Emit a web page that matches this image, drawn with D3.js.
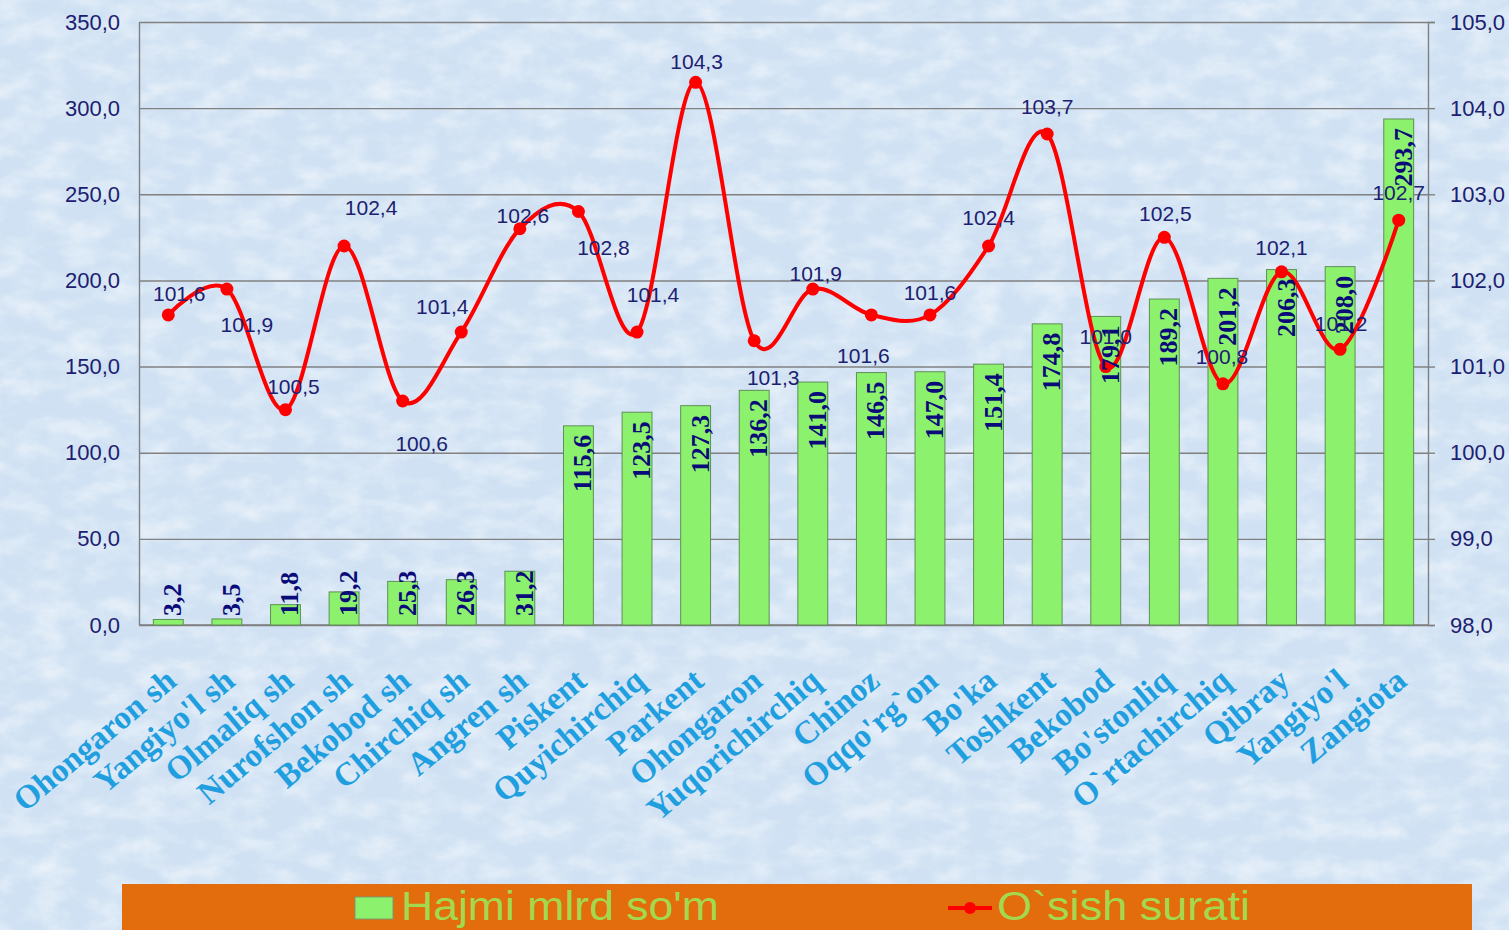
<!DOCTYPE html>
<html lang="uz">
<head>
  <meta charset="UTF-8">
  <title>Hajmi va o'sish surati</title>
  <script src="https://d3js.org/d3.v7.min.js"></script>
  <style>
    body { margin: 0; padding: 0; background: #d2e4f5; overflow: hidden; }
    svg { display: block; }
  </style>
</head>
<body>
  <svg width="1509" height="930"></svg>
  <script>
    // hududlar
    const categories = ["Ohongaron sh", "Yangiyo'l sh", "Olmaliq sh", "Nurofshon sh", "Bekobod sh",
      "Chirchiq sh", "Angren sh", "Piskent", "Quyichirchiq", "Parkent", "Ohongaron", "Yuqorichirchiq",
      "Chinoz", "Oqqo'rg`on", "Bo'ka", "Toshkent", "Bekobod", "Bo'stonliq", "O`rtachirchiq",
      "Qibray", "Yangiyo'l", "Zangiota"];
    // Hajmi mlrd so'm
    const volume = [3.2, 3.5, 11.8, 19.2, 25.3, 26.3, 31.2, 115.6, 123.5, 127.3, 136.2, 141.0,
      146.5, 147.0, 151.4, 174.8, 179.1, 189.2, 201.2, 206.3, 208.0, 293.7];
    // O`sish surati
    const growth = [101.6, 101.9, 100.5, 102.4, 100.6, 101.4, 102.6, 102.8, 101.4, 104.3, 101.3, 101.9,
      101.6, 101.6, 102.4, 103.7, 101.0, 102.5, 100.8, 102.1, 101.2, 102.7];
    const leftTicks = [0, 50, 100, 150, 200, 250, 300, 350];
    const rightTicks = [98, 99, 100, 101, 102, 103, 104, 105];
    const seriesNames = ["Hajmi mlrd so'm", "O`sish surati"];

    // label offsets for the line labels (moved by hand in the original)
    const lineLabelShift = [[11, -21], [20, 36], [8, -23], [27, -38], [19, 43], [-19, -25], [3, -13],
      [25, 36], [16, -37], [1, -21], [19, 37], [3, -15], [-8, 41], [0, -22], [0, -28], [0, -27],
      [0, -30], [1, -24], [-1, -27], [0, -24], [1, -26], [0, -27]];

    const svg = d3.select("svg");
    const fmt = v => d3.format(".1f")(v).replace(".", ",");

    // fon: och ko'k, mayda teksturali
    const defs = svg.append("defs");
    const f = defs.append("filter").attr("id", "tex").attr("x", 0).attr("y", 0).attr("width", 1).attr("height", 1);
    f.append("feTurbulence").attr("type", "fractalNoise").attr("baseFrequency", "0.03 0.05")
      .attr("numOctaves", 4).attr("seed", 11);
    f.append("feColorMatrix").attr("type", "matrix")
      .attr("values", "0 0 0 0 1  0 0 0 0 1  0 0 0 0 1  1.6 0 0 0 -0.6");
    svg.append("rect").attr("width", 1509).attr("height", 930).attr("fill", "#cfe1f3");
    svg.append("rect").attr("width", 1509).attr("height", 930).attr("filter", "url(#tex)").attr("opacity", 0.6);

    const plotL = 139, plotR = 1428, plotT = 22, plotB = 625;

    const x = d3.scaleBand().domain(categories).range([plotL, plotR]);
    const yL = d3.scaleLinear().domain([0, 350]).range([plotB, plotT]);
    const yR = d3.scaleLinear().domain([98, 105]).range([plotB, plotT]);

    // gorizontal chiziqlar
    svg.append("g")
      .attr("transform", `translate(${plotL},0)`)
      .call(d3.axisLeft(yL).tickValues(leftTicks).tickSize(-(plotR - plotL)).tickFormat(""))
      .call(g => g.select(".domain").remove())
      .selectAll("line").attr("stroke", "#808080").attr("stroke-width", 1.4);

    // chap o'q
    const axL = svg.append("g")
      .attr("transform", `translate(${plotL},0)`)
      .call(d3.axisLeft(yL).tickValues(leftTicks).tickSize(0).tickPadding(19).tickFormat(fmt));
    axL.select(".domain").attr("stroke", "#808080").attr("stroke-width", 1.4);
    axL.selectAll("text").attr("fill", "#1c2070").style("font-family", "'Liberation Sans', Arial, sans-serif")
      .style("font-size", "22px");

    // o'ng o'q
    const axR = svg.append("g")
      .attr("transform", `translate(${plotR},0)`)
      .call(d3.axisRight(yR).tickValues(rightTicks).tickSize(7).tickPadding(15).tickFormat(fmt));
    axR.select(".domain").attr("stroke", "#808080").attr("stroke-width", 1.4);
    axR.selectAll("line").attr("stroke", "#808080").attr("stroke-width", 1.4);
    axR.selectAll("text").attr("fill", "#1c2070").style("font-family", "'Liberation Sans', Arial, sans-serif")
      .style("font-size", "22px");

    // pastki chiziq
    svg.append("line").attr("x1", plotL).attr("x2", plotR).attr("y1", plotB).attr("y2", plotB)
      .attr("stroke", "#808080").attr("stroke-width", 1.4);

    // ustunlar
    const bw = x.bandwidth() * 0.51;
    const cx = d => x(d) + x.bandwidth() / 2;
    svg.append("g").selectAll("rect")
      .data(categories)
      .join("rect")
      .attr("x", d => cx(d) - bw / 2)
      .attr("y", (d, i) => yL(volume[i]))
      .attr("width", bw)
      .attr("height", (d, i) => yL(0) - yL(volume[i]))
      .attr("fill", "#8cf26e")
      .attr("stroke", "#5f8f55")
      .attr("stroke-width", 1);

    // chiziq
    const line = d3.line()
      .x((d, i) => cx(categories[i]))
      .y(d => yR(d))
      .curve(d3.curveCardinal.tension(0));
    svg.append("path").datum(growth)
      .attr("d", line)
      .attr("fill", "none")
      .attr("stroke", "#ff0000")
      .attr("stroke-width", 4);
    svg.append("g").selectAll("circle")
      .data(growth)
      .join("circle")
      .attr("cx", (d, i) => cx(categories[i]))
      .attr("cy", d => yR(d))
      .attr("r", 6.5)
      .attr("fill", "#ff0000");

    // ustun yozuvlari (vertikal)
    const barLabels = svg.append("g").selectAll("text")
      .data(volume)
      .join("text")
      .attr("fill", "#0a0a78")
      .style("font-family", "'Liberation Serif', 'Times New Roman', serif")
      .style("font-weight", "bold")
      .style("font-size", "26px")
      .attr("dy", "0.5em")
      .text(d => fmt(d));
    barLabels.each(function (d, i) {
      const len = this.getComputedTextLength();
      const xc = cx(categories[i]);
      const yEnd = yL(d) + 9;
      const el = d3.select(this);
      if (yEnd + len > 616) {
        el.attr("text-anchor", "start").attr("transform", `translate(${xc},616) rotate(-90)`);
      } else {
        el.attr("text-anchor", "end").attr("transform", `translate(${xc},${yEnd}) rotate(-90)`);
      }
    });

    // chiziq yozuvlari
    svg.append("g").selectAll("text")
      .data(growth)
      .join("text")
      .attr("x", (d, i) => cx(categories[i]) + lineLabelShift[i][0])
      .attr("y", (d, i) => yR(d) + lineLabelShift[i][1])
      .attr("dy", "0.35em")
      .attr("text-anchor", "middle")
      .attr("fill", "#1c2070")
      .style("font-family", "'Liberation Sans', Arial, sans-serif")
      .style("font-size", "21px")
      .text(d => fmt(d));

    // x o'q yozuvlari
    svg.append("g").selectAll("text")
      .data(categories)
      .join("text")
      .attr("transform", d => `translate(${cx(d) + 10},684) rotate(-40)`)
      .attr("text-anchor", "end")
      .attr("fill", "#1f9fe0")
      .style("font-family", "'Liberation Serif', 'Times New Roman', serif")
      .style("font-weight", "bold")
      .style("font-size", "33px")
      .text(d => d);

    // legenda
    const leg = svg.append("g");
    leg.append("rect").attr("x", 122).attr("y", 884).attr("width", 1350).attr("height", 46).attr("fill", "#e36d0c");
    leg.append("rect").attr("x", 355).attr("y", 897).attr("width", 38).attr("height", 22)
      .attr("fill", "#8cf26e").attr("stroke", "#7a9a70");
    leg.append("line").attr("x1", 948).attr("x2", 992).attr("y1", 908).attr("y2", 908)
      .attr("stroke", "#ff0000").attr("stroke-width", 4);
    leg.append("circle").attr("cx", 970).attr("cy", 908).attr("r", 6).attr("fill", "#ff0000");
    leg.selectAll("text.lg")
      .data(seriesNames)
      .join("text")
      .attr("class", "lg")
      .attr("x", (d, i) => i === 0 ? 401 : 997)
      .attr("y", 920)
      .attr("fill", "#a3d94e")
      .style("font-family", "'Liberation Sans', Arial, sans-serif")
      .style("font-size", "41px")
      .attr("textLength", (d, i) => i === 0 ? 318 : 253)
      .attr("lengthAdjust", "spacingAndGlyphs")
      .text(d => d);
  </script>
</body>
</html>
